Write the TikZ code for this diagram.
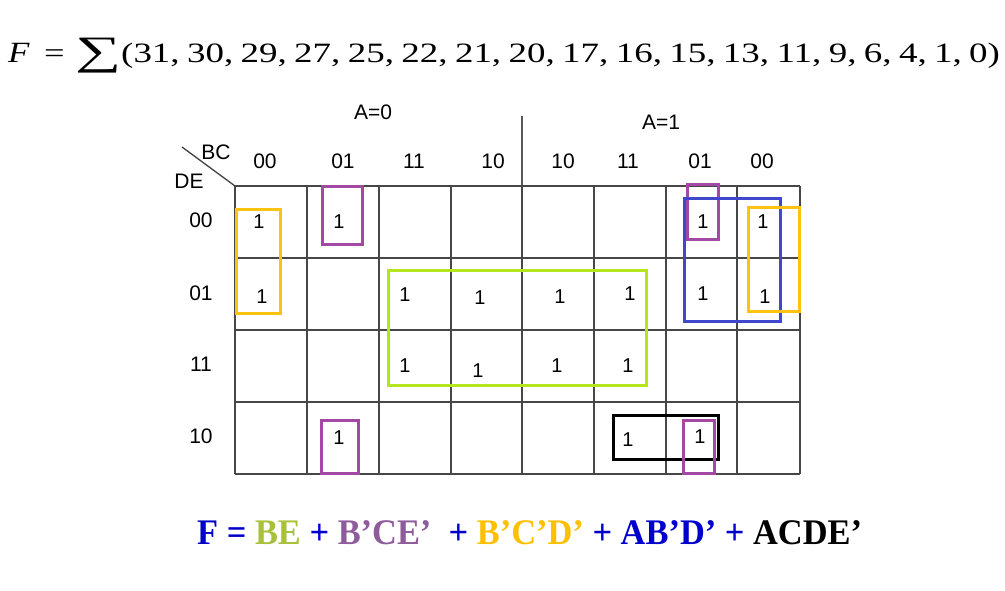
\documentclass[tikz,border=0pt]{standalone}
\usepackage{fontspec}
\setmainfont{Liberation Serif}
\newfontfamily\arial{Liberation Sans}
\definecolor{kgold}{HTML}{FFC20E}
\definecolor{kpurple}{HTML}{A349A4}
\definecolor{klime}{HTML}{B5E61D}
\definecolor{kindigo}{HTML}{3F48CC}
\definecolor{eqblue}{HTML}{0000CC}
\definecolor{eqgreen}{HTML}{A6C23A}
\definecolor{eqpurple}{HTML}{8E5B9C}
\definecolor{eqgold}{HTML}{FFC000}
\newcommand\kcs{,\hspace{0.2em}}
\begin{document}
\begin{tikzpicture}[x=1pt,y=-1pt,
  hdr/.style={font=\arial\fontsize{21}{24}\selectfont, inner sep=0pt},
  one/.style={font=\arial\fontsize{20}{24}\selectfont, inner sep=0pt},
  gridln/.style={line width=1.9pt, draw=black!72},
  grp/.style={line width=3pt},
  topf/.style={inner sep=0pt, font=\fontsize{28}{32}\selectfont}]
\useasboundingbox (0,0) rectangle (1005,590);
% top formula
\node[topf, anchor=base west] (fF) at (8,62) {\scalebox{1.25}[1.05]{\textit{F}}};
\node[topf, anchor=base west] (feq) at (44,62) {\scalebox{1.3}[1]{=}};
\node[topf, font=\fontsize{36}{40}\selectfont] (fsum) at (99,56) {\scalebox{1.8}[1.12]{∑}};
\node[topf, anchor=base west] (flist) at (121,62) {\scalebox{1.32}[1]{(31\kcs 30\kcs 29\kcs 27\kcs 25\kcs 22\kcs 21\kcs 20\kcs 17\kcs 16\kcs 15\kcs 13\kcs 11\kcs 9\kcs 6\kcs 4\kcs 1\kcs 0)}};
% headers
\node[hdr] (a0) at (373,112) {A=0};
\node[hdr] (a1) at (661,122) {A=1};
\coordinate (divtop) at (522,116);
\coordinate (divbot) at (522,186);
\draw[line width=1.5pt, draw=black!65] (divtop) -- (divbot);
\node[hdr] (bc) at (216,152) {BC};
\node[hdr] (de) at (189,181) {DE};
\coordinate (diagA) at (182,147);
\coordinate (diagB) at (235,186);
\draw[line width=1.3pt, draw=black!75] (diagA) -- (diagB);
\foreach \x/\t/\n in {265/00/h1,343/01/h2,414/11/h3,493/10/h4,563/10/h5,628/11/h6,700/01/h7,762/00/h8}
  \node[hdr] (\n) at (\x,161) {\t};
\foreach \y/\t/\n in {220/00/r1,293/01/r2,364/11/r3,436/10/r4}
  \node[hdr] (\n) at (201,\y) {\t};
% grid
\foreach \x in {235,307,379,451,522,594,666,737,800}
  \draw[gridln] (\x,186) -- (\x,474);
\foreach \y in {186,258,330,402,474}
  \draw[gridln] (235,\y) -- (800,\y);
% ones
\foreach \x/\y/\n in {259/222/o1,339/222/o2,703/222/o3,763/222/o4,
  262/297/o5,405/295/o6,480/298/o7,560/297/o8,630/294/o9,703/294/o10,765/297/o11,
  405/366/o12,478/371/o13,557/366/o14,628/366/o15,
  339/438/o16,628/440/o17,700/437/o18}
  \node[one] (\n) at (\x,\y) {1};
% groups
\draw[grp, draw=kgold] (236,209) rectangle (280,313);
\draw[grp, draw=kpurple] (322,186) rectangle (362,244);
\draw[grp, draw=kpurple] (687,184) rectangle (718,239);
\draw[grp, draw=kindigo] (684,198) rectangle (780,321);
\draw[grp, draw=kgold] (748,207) rectangle (799,311);
\draw[grp, draw=klime] (388,270) rectangle (646,385);
\draw[grp, draw=kpurple] (321,420) rectangle (358,473);
\draw[grp, draw=black] (613,415) rectangle (718,459);
\draw[grp, draw=kpurple] (683,420) rectangle (714,473);
% result
\node[anchor=base west, inner sep=0pt, font=\bfseries\fontsize{36}{40}\selectfont] (res) at (197,544)
  {\scalebox{0.956}[1]{\textcolor{eqblue}{F =} \textcolor{eqgreen}{BE} \textcolor{eqblue}{+} \textcolor{eqpurple}{B’CE’}\ \ \textcolor{eqblue}{+} \textcolor{eqgold}{B’C’D’} \textcolor{eqblue}{+} \textcolor{eqblue}{AB’D’} \textcolor{eqblue}{+} \textcolor{black}{ACDE’}}};
\end{tikzpicture}
\end{document}
